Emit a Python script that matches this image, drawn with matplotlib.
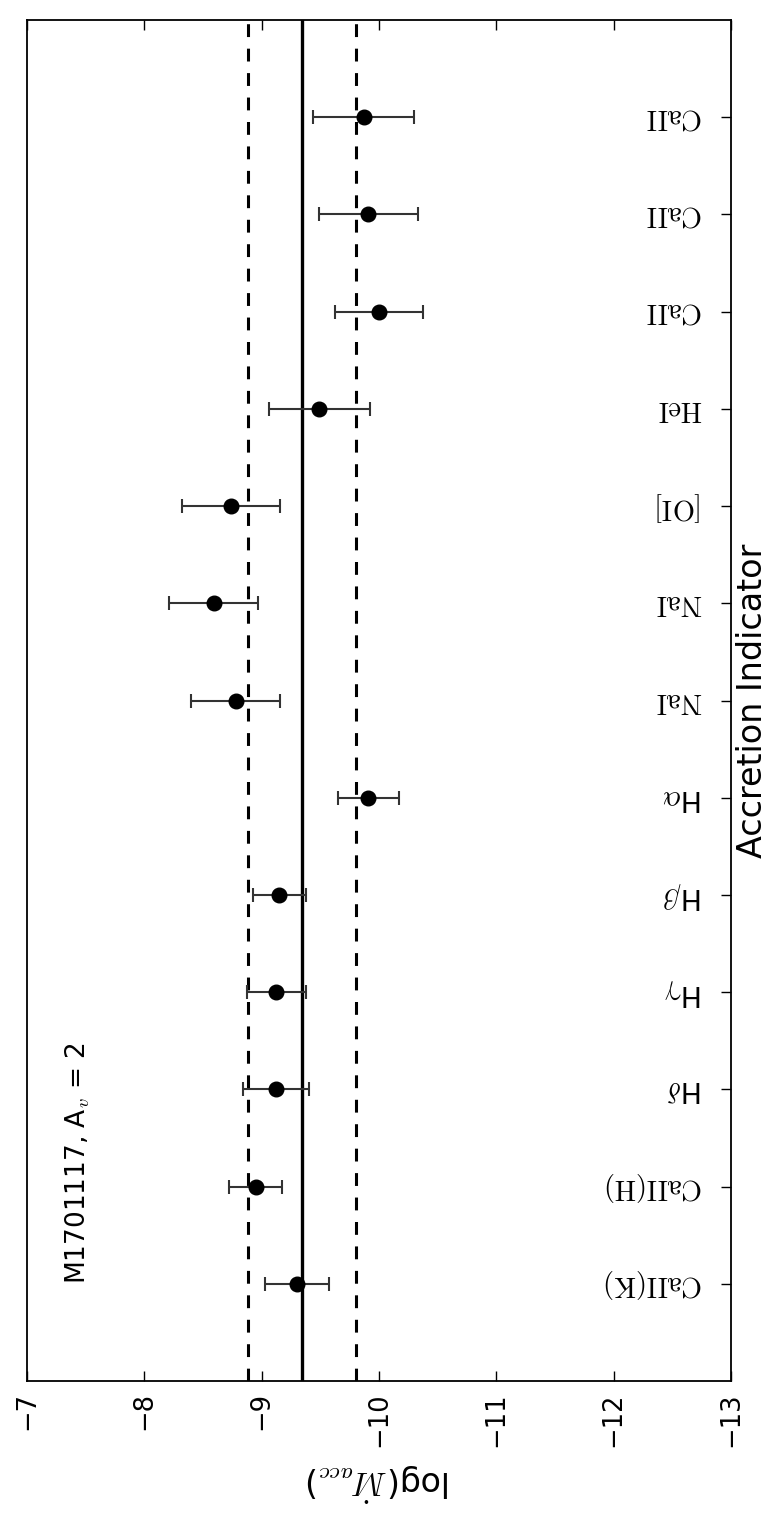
import numpy as np
from matplotlib import pyplot as plt

plt.rcParams['mathtext.fontset'] = 'cm'
plt.rcParams['font.family'] = 'DejaVu Sans'

# accretion indicators, listed from the bottom of the panel to the top
indicators = [r'$\mathrm{CaII(K)}$', r'$\mathrm{CaII(H)}$', r'H$\delta$', r'H$\gamma$',
              r'H$\beta$', r'H$\alpha$', r'$\mathrm{NaI}$', r'$\mathrm{NaI}$',
              r'$\mathrm{[OI]}$', r'$\mathrm{HeI}$', r'$\mathrm{CaII}$', r'$\mathrm{CaII}$',
              r'$\mathrm{CaII}$']
log_macc = [-9.30, -8.95, -9.12, -9.125, -9.15, -9.91, -8.78, -8.59,
            -8.74, -9.49, -10.00, -9.91, -9.87]
log_macc_err = [0.275, 0.225, 0.28, 0.25, 0.225, 0.26, 0.38, 0.38,
                0.42, 0.43, 0.375, 0.42, 0.43]

mean_macc = -9.345
std_macc = 0.46
ticks_macc = [-7, -8, -9, -10, -11, -12, -13]
label_text = r'M1701117, A$_v$ = 2'


def main():
    fig = plt.figure(figsize=(7.83, 15.2), dpi=100)
    ax = fig.add_axes([0.0345, 0.0914, 0.8991, 0.8954])

    pos = np.arange(1, len(indicators) + 1)

    ax.axvline(mean_macc, color='k', lw=2.4)
    ax.axvline(mean_macc + std_macc, color='k', lw=2.2, ls=(0, (4.2, 3.8)))
    ax.axvline(mean_macc - std_macc, color='k', lw=2.2, ls=(0, (4.2, 3.8)))

    ax.errorbar(log_macc, pos, xerr=log_macc_err, fmt='o', color='k', ms=10.5,
                ecolor='#333333', elinewidth=1.5, capsize=5, capthick=1.5)

    ax.set_xlim(-7, -13)
    ax.set_ylim(0, len(indicators) + 1)

    ax.set_xticks(ticks_macc)
    ax.set_xticklabels([str(t).replace('-', '\u2212') for t in ticks_macc],
                       rotation=90, fontsize=18.5)
    ax.tick_params(axis='x', direction='in', top=True, bottom=True, length=7, width=1, pad=8)

    ax.set_yticks(pos)
    ax.set_yticklabels([])
    ax.tick_params(axis='y', direction='in', left=False, right=True, length=7, width=1)

    # indicator names, upside down inside the panel
    for p, name in zip(pos, indicators):
        ax.text(0.96, p, name, transform=ax.get_yaxis_transform(), rotation=180,
                ha='right', va='center', fontsize=20.5)

    ax.text(0.5, -0.074, r'log($\dot{M}_{acc}$)', transform=ax.transAxes,
            rotation=180, ha='center', va='center', fontsize=24)
    ax.text(1.031, 0.5, 'Accretion Indicator', transform=ax.transAxes,
            rotation=90, ha='center', va='center', fontsize=24)

    ax.text(-7.43, pos[0], label_text, rotation=90, ha='center', va='bottom', fontsize=19)

    for s in ax.spines.values():
        s.set_linewidth(1.3)

    fig.savefig('out.png', dpi=100)


if __name__ == '__main__':
    main()
